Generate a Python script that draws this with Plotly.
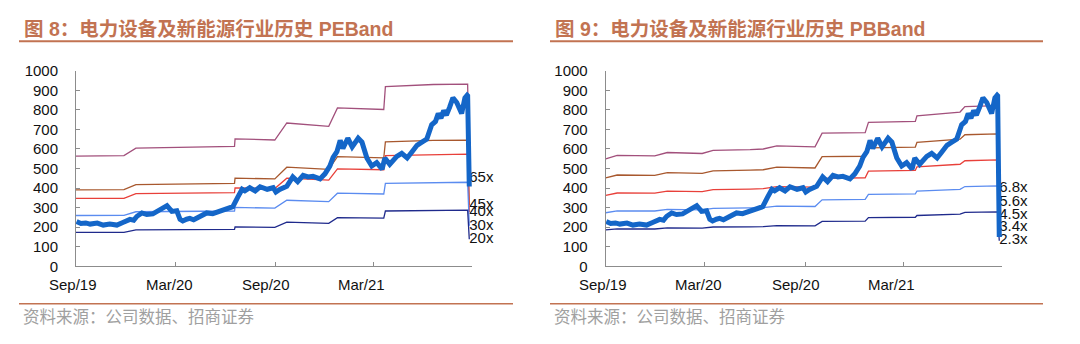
import plotly.graph_objects as go

# ---------------- data ----------------
x_tick_dates = ["2019-09-01", "2020-03-01", "2020-09-01", "2021-03-01"]
x_tick_text = ["Sep/19", "Mar/20", "Sep/20", "Mar/21"]

# sector index (same index on both panels, last print differs)
index_dates = [
    "2019-09-02", "2019-09-10", "2019-09-19", "2019-09-27", "2019-10-10", "2019-10-21",
    "2019-11-02", "2019-11-15", "2019-11-26", "2019-12-09", "2019-12-16", "2019-12-22",
    "2019-12-31", "2020-01-09", "2020-01-20", "2020-01-28", "2020-02-07", "2020-02-15",
    "2020-02-24", "2020-03-04", "2020-03-10", "2020-03-15", "2020-03-22", "2020-03-28",
    "2020-04-04", "2020-04-10", "2020-04-19", "2020-04-28", "2020-05-09", "2020-05-22",
    "2020-06-04", "2020-06-15", "2020-06-24", "2020-07-02", "2020-07-07", "2020-07-16",
    "2020-07-26", "2020-08-04", "2020-08-17", "2020-08-28", "2020-09-02", "2020-09-09",
    "2020-09-22", "2020-10-03", "2020-10-12", "2020-10-22", "2020-10-31", "2020-11-09",
    "2020-11-22", "2020-12-01", "2020-12-10", "2020-12-16", "2020-12-23", "2020-12-29",
    "2021-01-03", "2021-01-12", "2021-01-20", "2021-01-31", "2021-02-07", "2021-02-16",
    "2021-02-25", "2021-03-06", "2021-03-16", "2021-03-21", "2021-03-30", "2021-04-12",
    "2021-04-21", "2021-05-01", "2021-05-10", "2021-05-19", "2021-05-28", "2021-06-06",
    "2021-06-15", "2021-06-22", "2021-06-27", "2021-07-02", "2021-07-07", "2021-07-12",
    "2021-07-18", "2021-07-24", "2021-07-31", "2021-08-09", "2021-08-15", "2021-08-19",
    "2021-08-20",
]
index_values = [
    229, 219, 222, 216, 221, 211,
    216, 211, 224, 240, 236, 256,
    273, 265, 268, 281, 300, 310,
    281, 284, 240, 232, 241, 245,
    238, 248, 265, 273, 269, 281,
    289, 305, 354, 394, 386, 402,
    386, 407, 394, 402, 380, 393,
    409, 457, 433, 465, 457, 460,
    447, 473, 513, 557, 586, 644,
    603, 655, 611, 655, 635, 554,
    513, 530, 497, 554, 522, 562,
    578, 554, 586, 619, 635, 651,
    724, 741, 781, 757, 797, 773,
    814, 862, 838, 781, 862, 875,
    872,
]
last_date = "2021-08-23"
pe_index_last = 408
pb_index_last = 150

# PE bands
pe_band_dates = [
    "2019-09-01", "2019-11-28", "2019-12-20", "2020-03-01", "2020-06-18", "2020-06-19",
    "2020-08-14", "2020-08-31", "2020-09-22", "2020-12-08", "2020-12-24", "2021-03-19",
    "2021-03-22", "2021-06-18", "2021-08-20", "2021-08-23",
]
pe_65x = [564, 566, 604, 607, 613, 652, 645, 646, 733, 716, 810, 802, 919, 930, 932, 450]
pe_45x = [391, 392, 418, 420, 424, 451, 447, 447, 507, 496, 561, 555, 636, 644, 645, 313]
pe_40x = [347, 348, 372, 374, 377, 401, 397, 398, 451, 441, 498, 494, 566, 572, 574, 278]
pe_30x = [260, 261, 279, 280, 283, 301, 298, 298, 338, 331, 374, 370, 424, 429, 430, 207]
pe_20x = [174, 174, 186, 187, 189, 201, 198, 199, 226, 220, 249, 247, 283, 286, 287, 138]

# PB bands
pb_band_dates = [
    "2019-09-01", "2019-09-22", "2019-11-30", "2019-12-23", "2020-02-25", "2020-03-16",
    "2020-05-23", "2020-06-16", "2020-07-11", "2020-09-19", "2020-10-02", "2020-12-20",
    "2020-12-26", "2021-03-22", "2021-03-25", "2021-06-12", "2021-06-21", "2021-08-20",
    "2021-08-23",
]
pb_6_8x = [549, 567, 565, 582, 577, 593, 597, 600, 616, 611, 681, 684, 736, 741, 770, 789, 817, 822, 397]
pb_5_6x = [452, 467, 465, 479, 475, 488, 492, 494, 507, 503, 561, 563, 606, 610, 634, 650, 673, 677, 328]
pb_4_5x = [363, 375, 374, 385, 382, 392, 395, 397, 408, 405, 450, 453, 487, 491, 509, 522, 540, 544, 261]
pb_3_4x = [274, 284, 283, 291, 289, 296, 299, 300, 308, 306, 340, 342, 368, 371, 385, 394, 408, 411, 198]
pb_2_3x = [186, 192, 191, 197, 195, 201, 202, 203, 208, 207, 230, 231, 249, 251, 260, 267, 276, 278, 131]

pe_labels = ["65x", "45x", "40x", "30x", "20x"]
pb_labels = ["6.8x", "5.6x", "4.5x", "3.4x", "2.3x"]

titles = ["图 8：电力设备及新能源行业历史 PEBand", "图 9：电力设备及新能源行业历史 PBBand"]
source_text = "资料来源：公司数据、招商证券"

# ---------------- style ----------------
W, H = 1080, 344
band_colors = ["#A2507C", "#A8582E", "#E8403A", "#5B8CF0", "#1F2A8C"]
index_color = "#1466C8"
accent = "#C27352"
axis_grey = "#8C8C8C"
latin_cjk = "Arial, 'Liberation Sans', 'Noto Sans CJK SC', sans-serif"

fig = go.Figure()


def end_label_text(n, label):
    return [""] * (n - 1) + [label]


def add_panel(xa, ya, band_dates, bands, labels, index_last):
    for vals, lab, col in zip(bands, labels, band_colors):
        fig.add_trace(go.Scatter(
            x=band_dates, y=vals, mode="lines+text",
            text=end_label_text(len(vals), lab), textposition="middle right",
            textfont=dict(size=15, color="#111", family=latin_cjk),
            line=dict(color=col, width=1.3), cliponaxis=False,
            xaxis=xa, yaxis=ya, showlegend=False, hoverinfo="skip",
        ))
    fig.add_trace(go.Scatter(
        x=index_dates + [last_date], y=index_values + [index_last], mode="lines",
        line=dict(color=index_color, width=5), cliponaxis=False,
        xaxis=xa, yaxis=ya, showlegend=False, hoverinfo="skip",
    ))


add_panel("x", "y", pe_band_dates, [pe_65x, pe_45x, pe_40x, pe_30x, pe_20x], pe_labels, pe_index_last)
add_panel("x2", "y2", pb_band_dates, [pb_6_8x, pb_5_6x, pb_4_5x, pb_3_4x, pb_2_3x], pb_labels, pb_index_last)

x_range = ["2019-09-01", "2021-08-28"]
y_top, y_bottom = 65.0, 270.7  # pixel rows of 1000 and 0
y_dom = [(H - y_bottom) / H, (H - y_top) / H]
panels = [(76.0, 472.0), (605.7, 1002.0)]


def xaxis_cfg(dom, anchor):
    return dict(
        domain=[dom[0] / W, dom[1] / W], anchor=anchor, type="date", range=x_range,
        tickvals=x_tick_dates, showticklabels=False, ticks="inside", ticklen=4,
        tickcolor=axis_grey, showline=True, linecolor=axis_grey, linewidth=1,
        showgrid=False, zeroline=False,
    )


def yaxis_cfg(anchor):
    return dict(
        domain=y_dom, anchor=anchor, range=[0, 1000], tickmode="linear", tick0=0, dtick=100,
        ticks="inside", ticklen=4, tickcolor=axis_grey, showline=True, linecolor=axis_grey,
        linewidth=1, showgrid=False, zeroline=False, ticklabelstandoff=14,
        tickfont=dict(size=15, color="#111", family=latin_cjk),
    )


fig.update_layout(
    width=W, height=H, margin=dict(l=0, r=0, t=0, b=0),
    paper_bgcolor="white", plot_bgcolor="white",
    xaxis=xaxis_cfg(panels[0], "y"), yaxis=yaxis_cfg("x"),
    xaxis2=xaxis_cfg(panels[1], "y2"), yaxis2=yaxis_cfg("x2"),
)

# x tick labels sit a little left of their tick marks
label_shifts = [-3, -6, -9, -12]
annotations = []
for xa in ["x", "x2"]:
    for d, t, s in zip(x_tick_dates, x_tick_text, label_shifts):
        annotations.append(dict(
            x=d, xref=xa, y=(H - 290) / H, yref="paper", text=t, showarrow=False,
            xanchor="center", yanchor="middle", xshift=s,
            font=dict(size=15, color="#111", family=latin_cjk),
        ))

shapes = []
for (x0, x1), title in zip([(19, 513), (550, 1043)], titles):
    annotations.append(dict(
        x=(x0 + 3) / W, xref="paper", y=(H - 21) / H, yref="paper", text="<b>%s</b>" % title,
        showarrow=False, xanchor="left", yanchor="middle",
        font=dict(size=19.5, color=accent, family=latin_cjk),
    ))
    annotations.append(dict(
        x=(x0 + 2) / W, xref="paper", y=(H - 323) / H, yref="paper", text=source_text,
        showarrow=False, xanchor="left", yanchor="middle",
        font=dict(size=16.5, color="#A0A0A0", family="'Noto Sans CJK SC', sans-serif"),
    ))
    for yy, lw in [(34, 2), (310, 1.6)]:
        shapes.append(dict(
            type="line", xref="paper", yref="paper", x0=x0 / W, x1=x1 / W,
            y0=(H - yy) / H, y1=(H - yy) / H, line=dict(color=accent, width=lw),
        ))

fig.update_layout(annotations=annotations, shapes=shapes)
fig.write_html("out.html")
